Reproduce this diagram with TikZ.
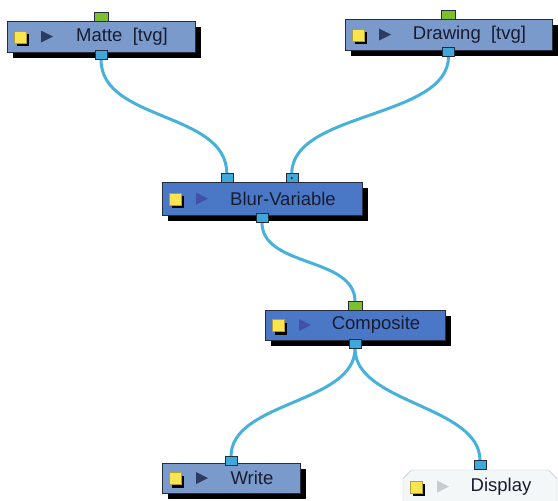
\documentclass[tikz,border=0pt]{standalone}
\usepackage{fontspec}
\setmainfont{Liberation Sans}
\definecolor{nodeblue}{RGB}{122,154,204}
\definecolor{activeblue}{RGB}{74,120,198}
\definecolor{edgedark}{RGB}{36,44,62}
\definecolor{textdark}{RGB}{24,28,48}
\definecolor{displayfill}{RGB}{244,247,247}
\definecolor{displayedge}{RGB}{186,194,196}
\definecolor{linkblue}{RGB}{70,178,220}
\definecolor{portblue}{RGB}{62,168,218}
\definecolor{portgreen}{RGB}{124,192,44}
\definecolor{iconyellow}{RGB}{250,228,80}
\definecolor{playdark}{RGB}{44,60,96}
\definecolor{playviolet}{RGB}{66,80,168}
\definecolor{playgrey}{RGB}{200,204,206}
\usetikzlibrary{positioning,calc,shadows,shapes.misc,backgrounds}

\begin{document}
\begin{tikzpicture}[x=1pt,y=-1pt,
    every node/.style={font=\fontsize{18.5}{21}\selectfont,text=textdark},
    module/.style={draw=edgedark,fill=#1,minimum height=31pt,inner sep=0pt,
      execute at begin node={\hspace*{42pt}},
      drop shadow={shadow xshift=5.5pt,shadow yshift=-5.5pt,fill=black,opacity=1}},
    icons/.style={path picture={
        \coordinate (pw) at (path picture bounding box.west);
        \fill[black] ([xshift=10pt,yshift=-9.5pt]pw) rectangle ++(12pt,12pt);
        \filldraw[fill=iconyellow,draw=iconyellow!70!black] ([xshift=7pt,yshift=-6.5pt]pw) rectangle ++(12pt,12pt);
        \fill[#1] ([xshift=34pt,yshift=6pt]pw) -- ++(12pt,-6pt) -- ++(-12pt,-6pt) -- cycle;}},
    greenport/.style={draw=edgedark,fill=portgreen,minimum width=14pt,minimum height=9pt,inner sep=0pt},
    blueport/.style={draw=edgedark,fill=portblue,minimum width=12pt,minimum height=9pt,inner sep=0pt},
    dotport/.style={blueport,path picture={\fill[edgedark] (path picture bounding box.center) circle (1.2pt);}},
    link/.style={draw=linkblue,line width=3pt}]
  \useasboundingbox (0,0) rectangle (558,501);
  \clip (0,0) rectangle (558,501);

  % source nodes
  \node[module=nodeblue,icons=playdark,minimum width=188pt] (matte) at (101,36.5) {Matte\ \ [tvg]};
  \node[module=nodeblue,icons=playdark,minimum width=207pt] (drawing) at (448.5,34.5) {Drawing\ \ [tvg]};
  \node[greenport,above=-1pt of matte] (matte-in) {};
  \node[blueport,below=-2pt of matte] (matte-out) {};
  \node[greenport,above=-1pt of drawing] (drawing-in) {};
  \node[blueport,below=-3pt of drawing] (drawing-out) {};

  % effect and composite
  \node[module=activeblue,icons=playviolet,minimum width=200pt,minimum height=33pt] (blur) at (262,198.5) {Blur-Variable};
  \node[blueport,anchor=south] (blur-in1) at ($(blur.north west)+(65,1)$) {};
  \node[dotport,anchor=south] (blur-in2) at ($(blur.north west)+(130,1)$) {};
  \node[blueport,below=-2pt of blur] (blur-out) {};
  \node[module=activeblue,icons=playviolet,minimum width=180pt,minimum height=30pt] (comp) at (355,325) {Composite};
  \node[greenport,above=-1pt of comp] (comp-in) {};
  \node[blueport,below=-1pt of comp] (comp-out) {};

  % outputs
  \node[module=nodeblue,icons=playdark,minimum width=138pt,minimum height=30pt] (write) at (231,478) {Write};
  \node[draw=displayedge,fill=displayfill,icons=playgrey,chamfered rectangle,
        chamfered rectangle corners={north west,north east},chamfered rectangle xsep=5pt,
        minimum width=154pt,minimum height=33pt,inner sep=0pt,
        execute at begin node={\hspace*{42pt}}] (display) at (480,486.5) {Display};
  \node[blueport,above=-3pt of write] (write-in) {};
  \node[blueport,above=0pt of display] (display-in) {};

  \begin{scope}[on background layer]
    \draw[link] (matte-out.south) .. controls +(0,62) and +(0,-62) .. (blur-in1.north);
    \draw[link] (drawing-out.south) .. controls +(0,62) and +(0,-62) .. (blur-in2.north);
    \draw[link] (blur-out.south) .. controls +(0,45) and +(0,-45) .. (comp-in.north);
    \draw[link] (comp-out.south) .. controls +(0,55) and +(0,-55) .. (write-in.north);
    \draw[link] (comp-out.south) .. controls +(0,55) and +(0,-55) .. (display-in.north);
  \end{scope}
\end{tikzpicture}
\end{document}
